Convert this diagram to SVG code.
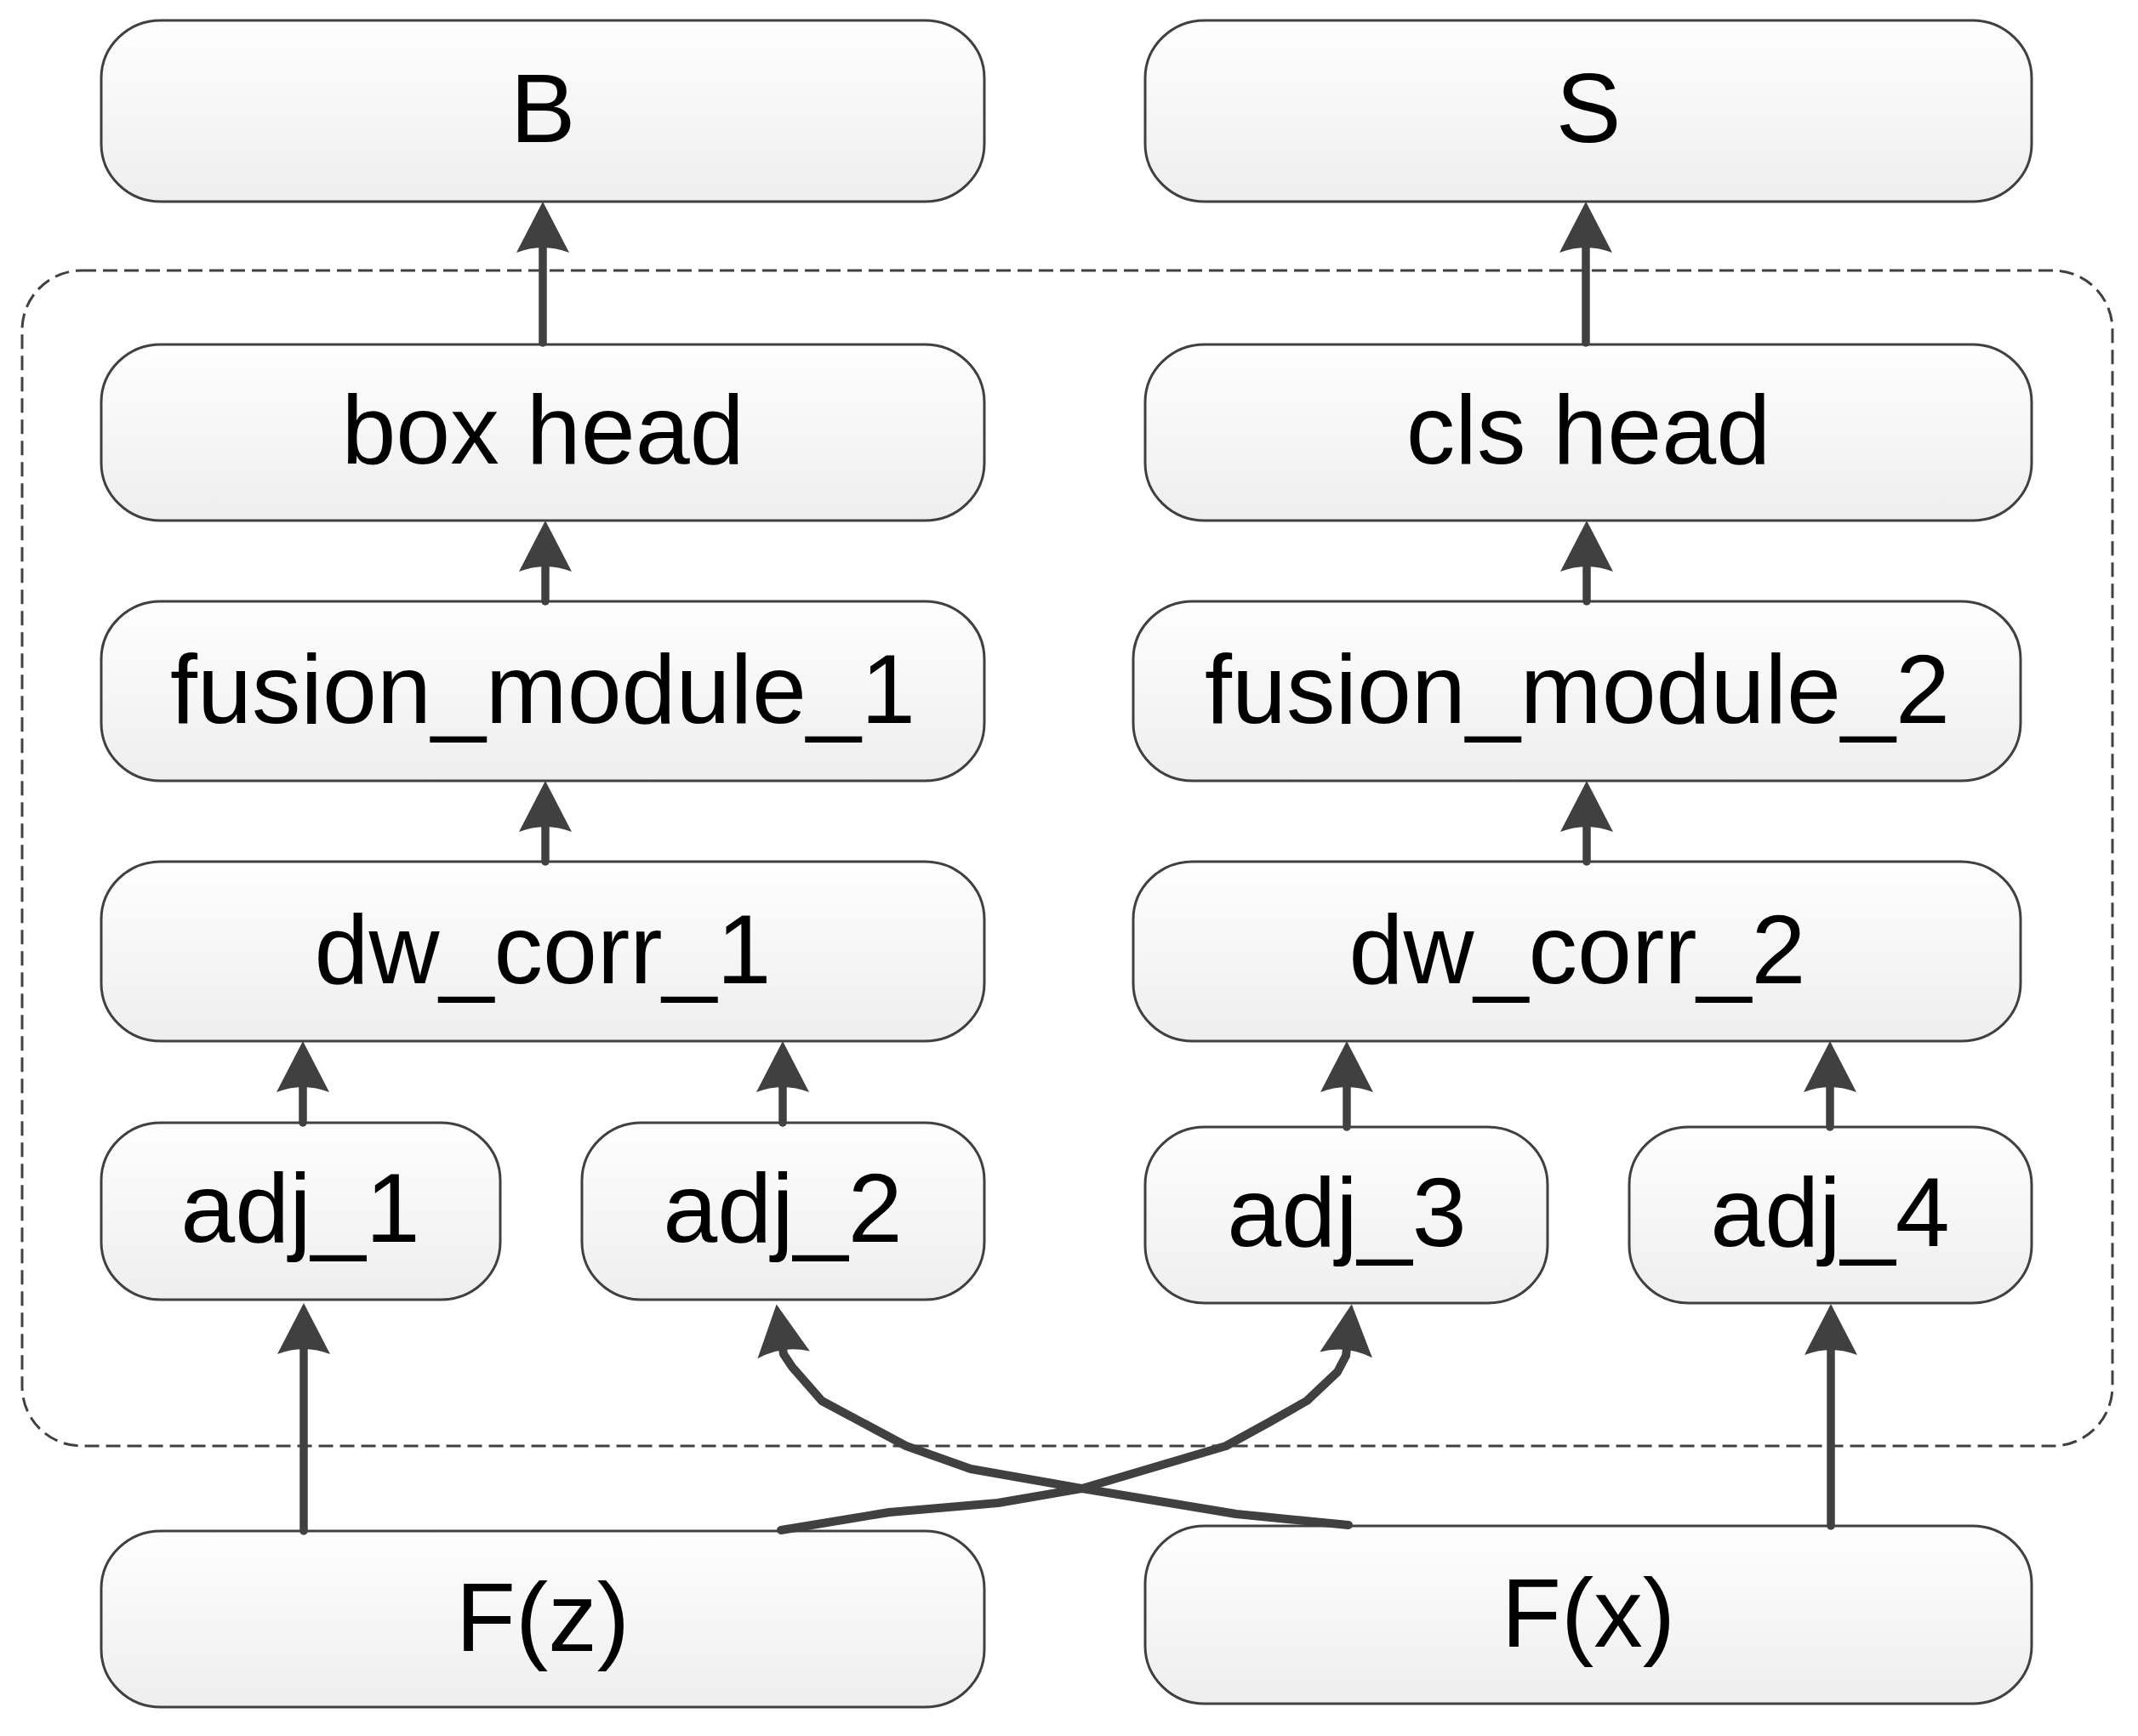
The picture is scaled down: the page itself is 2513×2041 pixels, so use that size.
<svg xmlns="http://www.w3.org/2000/svg" width="2513" height="2041" viewBox="0 0 2513 2041">
<defs>
<linearGradient id="nodeFill" x1="0" y1="0" x2="0" y2="1">
<stop offset="0" stop-color="#fefefe"/>
<stop offset="1" stop-color="#eeeeee"/>
</linearGradient>
<marker id="arrow" markerUnits="userSpaceOnUse" viewBox="-2 -34 66 68" markerWidth="66" markerHeight="68" refX="8" refY="0" orient="auto">
<path d="M60,0 L0,-31 Q12,0 0,31 Z" fill="#404040"/>
</marker>
</defs>
<style>
.node rect{fill:url(#nodeFill);stroke:#404040;stroke-width:3}
.node text{font-family:"Liberation Sans",Arial,sans-serif;font-size:115px;fill:#000;text-anchor:middle}
.edge{fill:none;stroke:#404040;stroke-width:9.5;stroke-linecap:round;stroke-linejoin:round;marker-end:url(#arrow)}
.curve{stroke-width:10}
.container{fill:none;stroke:#404040;stroke-width:3;stroke-dasharray:17 8}
</style>
<rect class="container" x="26" y="318" width="2457" height="1382" rx="70" ry="70"/>
<g id="node-B" class="node"><rect x="119" y="24" width="1038" height="213" rx="70" ry="68"/><text x="638" y="167">B</text></g>
<g id="node-S" class="node"><rect x="1346" y="24" width="1042" height="213" rx="70" ry="68"/><text x="1867" y="167">S</text></g>
<g id="node-box-head" class="node"><rect x="119" y="405" width="1038" height="207" rx="70" ry="68"/><text x="638" y="545">box head</text></g>
<g id="node-cls-head" class="node"><rect x="1346" y="405" width="1042" height="207" rx="70" ry="68"/><text x="1867" y="545">cls head</text></g>
<g id="node-fusion-1" class="node"><rect x="119" y="707" width="1038" height="211" rx="70" ry="68"/><text x="638" y="850">fusion_module_1</text></g>
<g id="node-fusion-2" class="node"><rect x="1332" y="707" width="1043" height="211" rx="70" ry="68"/><text x="1854" y="850">fusion_module_2</text></g>
<g id="node-dw-corr-1" class="node"><rect x="119" y="1013" width="1038" height="211" rx="70" ry="68"/><text x="638" y="1156">dw_corr_1</text></g>
<g id="node-dw-corr-2" class="node"><rect x="1332" y="1013" width="1043" height="211" rx="70" ry="68"/><text x="1854" y="1156">dw_corr_2</text></g>
<g id="node-adj-1" class="node"><rect x="119" y="1320" width="469" height="208" rx="70" ry="68"/><text x="353" y="1460">adj_1</text></g>
<g id="node-adj-2" class="node"><rect x="684" y="1320" width="473" height="208" rx="70" ry="68"/><text x="920" y="1460">adj_2</text></g>
<g id="node-adj-3" class="node"><rect x="1346" y="1325" width="473" height="207" rx="70" ry="68"/><text x="1583" y="1465">adj_3</text></g>
<g id="node-adj-4" class="node"><rect x="1915" y="1325" width="473" height="207" rx="70" ry="68"/><text x="2151" y="1465">adj_4</text></g>
<g id="node-Fz" class="node"><rect x="119" y="1800" width="1038" height="207" rx="70" ry="68"/><text x="638" y="1941">F(z)</text></g>
<g id="node-Fx" class="node"><rect x="1346" y="1794" width="1042" height="209" rx="70" ry="68"/><text x="1867" y="1936">F(x)</text></g>
<g id="connectors">
<path class="edge" d="M638,403 L638,289"/>
<path class="edge" d="M1864,403 L1864,289"/>
<path class="edge" d="M641,707 L641,664"/>
<path class="edge" d="M1865,707 L1865,664"/>
<path class="edge" d="M641,1013 L641,970"/>
<path class="edge" d="M1865,1013 L1865,970"/>
<path class="edge" d="M356,1320 L356,1276"/>
<path class="edge" d="M920,1320 L920,1276"/>
<path class="edge" d="M1583,1325 L1583,1276"/>
<path class="edge" d="M2151,1325 L2151,1276"/>
<path class="edge" d="M357,1800 L357,1584"/>
<path class="edge" d="M2152,1794 L2152,1585"/>
<path class="edge curve" d="M1585,1793 L1453,1780 L1272,1750 L1141,1727 L1065,1700 L966,1647 L931,1607 L921,1592 L920,1585"/>
<path class="edge curve" d="M918,1799 L1045,1778 L1173,1767 L1272,1750 L1441,1700 L1492,1672 L1536,1647 L1572,1613 L1582,1594 L1583,1585"/>
</g>
</svg>
